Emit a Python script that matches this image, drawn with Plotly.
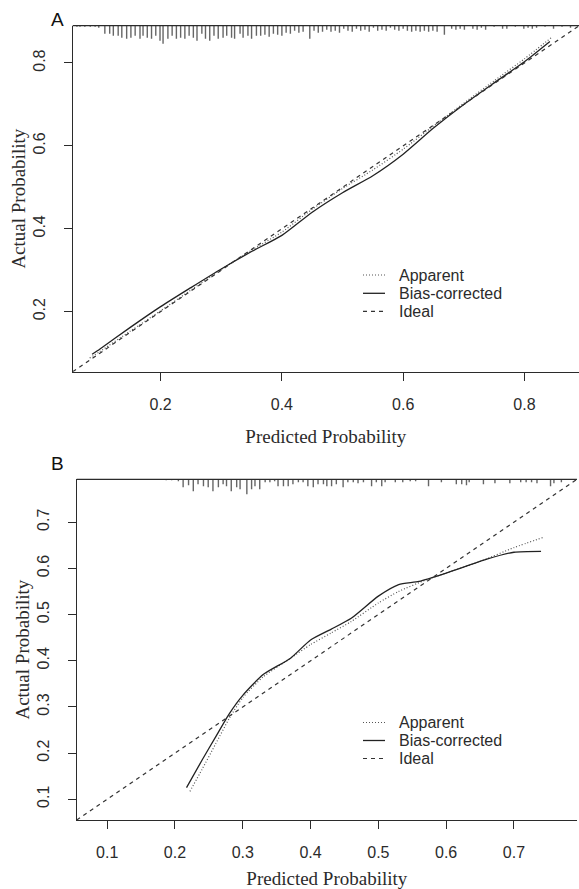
import plotly.graph_objects as go

# ---------------- data ----------------
# Panel A
a_app_x = [0.083, 0.10, 0.15, 0.20, 0.25, 0.30, 0.35, 0.40, 0.45, 0.50, 0.55, 0.60, 0.65, 0.70, 0.75, 0.80, 0.845]
a_app_y = [0.088, 0.104, 0.153, 0.202, 0.252, 0.302, 0.348, 0.392, 0.447, 0.497, 0.542, 0.592, 0.648, 0.703, 0.757, 0.810, 0.862]
a_bc_x = [0.087, 0.10, 0.15, 0.20, 0.25, 0.30, 0.35, 0.40, 0.45, 0.50, 0.55, 0.60, 0.65, 0.70, 0.75, 0.80, 0.842]
a_bc_y = [0.097, 0.110, 0.162, 0.212, 0.258, 0.303, 0.345, 0.384, 0.440, 0.487, 0.528, 0.580, 0.643, 0.700, 0.752, 0.803, 0.852]
a_range = [0.055, 0.890]
a_ticks = [0.2, 0.4, 0.6, 0.8]
a_ticklabels = ["0.2", "0.4", "0.6", "0.8"]
rug_a_x = [0.062, 0.067, 0.075, 0.084, 0.092, 0.098,
           0.108, 0.116, 0.122, 0.130, 0.136, 0.144, 0.151, 0.158, 0.166, 0.171,
           0.178, 0.185, 0.192, 0.199, 0.204, 0.212, 0.219, 0.226, 0.233, 0.240,
           0.247, 0.254, 0.260, 0.268, 0.274, 0.281, 0.288, 0.295, 0.303, 0.309,
           0.317, 0.322, 0.331, 0.336, 0.344, 0.350, 0.358,
           0.365, 0.372, 0.379, 0.386, 0.393, 0.400, 0.407, 0.414, 0.421, 0.428,
           0.435, 0.446, 0.453, 0.460, 0.467, 0.474, 0.481, 0.488, 0.495, 0.502,
           0.509, 0.516, 0.523, 0.530, 0.537, 0.544, 0.551, 0.558, 0.565, 0.572,
           0.579, 0.586, 0.593, 0.600, 0.607, 0.614, 0.621, 0.628, 0.635, 0.642,
           0.649, 0.656, 0.668, 0.680, 0.687, 0.694, 0.701, 0.715, 0.722, 0.729,
           0.736, 0.750, 0.764, 0.771, 0.785, 0.799, 0.806, 0.813, 0.820, 0.834,
           0.848, 0.862, 0.876]
rug_a_n = [1, 1, 1, 1, 1, 2,
           8, 8, 10, 10, 12, 13, 12, 10, 13, 10,
           12, 13, 10, 15, 18, 13, 10, 13, 12, 13,
           10, 12, 15, 8, 13, 15, 10, 13, 12, 10,
           12, 13, 8, 12, 10, 13, 10,
           10, 9, 11, 8, 9, 10, 7, 8, 5, 7,
           6, 13, 5, 7, 6, 4, 6, 5, 7, 3,
           5, 6, 3, 5, 4, 6, 2, 5, 4, 5,
           2, 4, 5, 3, 5, 6, 5, 6, 5, 6,
           5, 6, 9, 3, 4, 3, 4, 3, 4, 2,
           4, 1, 3, 3, 1, 3, 2, 3, 2, 1,
           3, 1, 2]

# Panel B
b_app_x = [0.222, 0.24, 0.26, 0.28, 0.30, 0.33, 0.37, 0.40, 0.43, 0.46, 0.50, 0.53, 0.57, 0.60, 0.65, 0.70, 0.745]
b_app_y = [0.117, 0.165, 0.220, 0.275, 0.320, 0.365, 0.405, 0.435, 0.460, 0.485, 0.525, 0.550, 0.575, 0.590, 0.615, 0.645, 0.668]
b_bc_x = [0.217, 0.24, 0.26, 0.28, 0.30, 0.33, 0.37, 0.40, 0.43, 0.46, 0.50, 0.53, 0.56, 0.60, 0.66, 0.70, 0.74]
b_bc_y = [0.125, 0.185, 0.235, 0.285, 0.325, 0.370, 0.405, 0.445, 0.468, 0.492, 0.540, 0.565, 0.572, 0.590, 0.620, 0.635, 0.637]
b_range = [0.055, 0.793]
b_ticks = [0.1, 0.2, 0.3, 0.4, 0.5, 0.6, 0.7]
b_ticklabels = ["0.1", "0.2", "0.3", "0.4", "0.5", "0.6", "0.7"]
rug_b_x = [0.187, 0.195, 0.205, 0.212, 0.220, 0.227, 0.234, 0.242, 0.249, 0.256,
           0.264, 0.271, 0.276, 0.283, 0.291, 0.296, 0.306, 0.313, 0.318, 0.325,
           0.333, 0.340, 0.347, 0.352, 0.360, 0.367, 0.374, 0.382, 0.389, 0.396,
           0.404, 0.411, 0.419, 0.424, 0.431, 0.438, 0.448, 0.455, 0.463, 0.470,
           0.478, 0.490, 0.497, 0.505, 0.510, 0.525, 0.536, 0.547, 0.555, 0.574,
           0.593, 0.615, 0.623, 0.630, 0.634, 0.655, 0.672, 0.694, 0.710, 0.718,
           0.726, 0.734, 0.754, 0.759, 0.770]
rug_b_n = [1, 1, 2, 8, 6, 12, 5, 7, 8, 12,
           8, 5, 7, 12, 8, 10, 15, 10, 7, 10,
           3, 3, 2, 7, 7, 7, 5, 3, 3, 7,
           8, 5, 5, 7, 7, 5, 8, 3, 3, 4,
           3, 7, 3, 7, 3, 3, 3, 2, 2, 7,
           3, 5, 5, 6, 3, 5, 4, 4, 3, 3,
           3, 4, 7, 4, 3]

series_names = ["Apparent", "Bias-corrected", "Ideal"]
x_title = "Predicted Probability"
y_title = "Actual Probability"
panel_labels = ["A", "B"]

# ---------------- figure ----------------
W, H = 579, 889
INK = "#2b2b2b"
SANS = "Liberation Sans, Arial, sans-serif"
SERIF = "Liberation Serif, Times New Roman, serif"

STYLES = [
    dict(color="#555555", width=1.2, dash="1px,2px"),   # Apparent
    dict(color="#222222", width=1.3),                   # Bias-corrected
    dict(color="#333333", width=1.2, dash="4px,4px"),   # Ideal
]

fig = go.Figure()


def rug_xy(xs, ns, top, unit):
    rx, ry = [], []
    for x, n in zip(xs, ns):
        rx += [x, x, None]
        ry += [top, top - n * unit, None]
    return rx, ry


def add_panel(xa, ya, app_x, app_y, bc_x, bc_y, rng, rug_x, rug_n, unit):
    rx, ry = rug_xy(rug_x, rug_n, rng[1], unit)
    fig.add_trace(go.Scatter(x=rx, y=ry, mode="lines", xaxis=xa, yaxis=ya,
                             line=dict(color="#666666", width=1.4),
                             showlegend=False, hoverinfo="skip"))
    fig.add_trace(go.Scatter(x=app_x, y=app_y, mode="lines", name=series_names[0],
                             xaxis=xa, yaxis=ya, showlegend=False,
                             line=dict(**STYLES[0], shape="spline", smoothing=0.6)))
    fig.add_trace(go.Scatter(x=bc_x, y=bc_y, mode="lines", name=series_names[1],
                             xaxis=xa, yaxis=ya, showlegend=False,
                             line=dict(**STYLES[1], shape="spline", smoothing=0.6)))
    fig.add_trace(go.Scatter(x=rng, y=rng, mode="lines", name=series_names[2],
                             xaxis=xa, yaxis=ya, showlegend=False,
                             line=STYLES[2]))


add_panel("x", "y", a_app_x, a_app_y, a_bc_x, a_bc_y, a_range,
          rug_a_x, rug_a_n, 0.00242)
add_panel("x2", "y2", b_app_x, b_app_y, b_bc_x, b_bc_y, b_range,
          rug_b_x, rug_b_n, 0.00216)


def axis(rng, ticks, labels, domain, anchor, is_y):
    d = dict(range=rng, domain=domain, anchor=anchor, tickvals=ticks, ticktext=labels,
             showline=True, linecolor=INK, linewidth=1.2, ticks="outside", ticklen=8,
             tickwidth=1.2, tickcolor=INK, showgrid=False, zeroline=False,
             automargin=False, fixedrange=True,
             tickfont=dict(family=SANS, size=16, color=INK),
             title=dict(text=y_title if is_y else x_title,
                        font=dict(family=SERIF, size=19, color=INK)))
    if is_y:
        d.update(tickangle=-90, ticklabelstandoff=12)
        d["title"]["standoff"] = 0
    else:
        d.update(ticklabelstandoff=10)
        d["title"]["standoff"] = 17
    return d


ya_dom = [1 - 371.7 / H, 1 - 25.7 / H]
yb_dom = [1 - 820.0 / H, 1 - 479.3 / H]
fig.update_layout(
    width=W, height=H,
    margin=dict(l=0, r=0, t=0, b=0),
    paper_bgcolor="white", plot_bgcolor="white",
    xaxis=axis(a_range, a_ticks, a_ticklabels, [72.7 / W, 1.0], "y", False),
    yaxis=axis(a_range, a_ticks, a_ticklabels, ya_dom, "x", True),
    xaxis2=axis(b_range, b_ticks, b_ticklabels, [76.7 / W, 0.9965], "y2", False),
    yaxis2=axis(b_range, b_ticks, b_ticklabels, yb_dom, "x2", True),
    showlegend=False,
)

# top frame line of each panel (under the rug)
for xr, yr in (("x domain", "y domain"), ("x2 domain", "y2 domain")):
    fig.add_shape(type="line", xref=xr, yref=yr, x0=0, x1=1, y0=1, y1=1,
                  line=dict(color=INK, width=1.2))

# legends (line sample + text) for both panels
for rows_y in ((275.0, 293.3, 311.3), (722.5, 740.5, 758.5)):
    for i, yy in enumerate(rows_y):
        fig.add_shape(type="line", xref="paper", yref="paper",
                      x0=363 / W, x1=385 / W, y0=1 - yy / H, y1=1 - yy / H,
                      line=STYLES[i])
        fig.add_annotation(text=series_names[i], xref="paper", yref="paper",
                           x=397 / W, y=1 - yy / H, xanchor="left", yanchor="middle",
                           showarrow=False, font=dict(family=SANS, size=16, color=INK))

# panel letters
fig.add_annotation(text=panel_labels[0], xref="paper", yref="paper", x=57 / W, y=1 - 20 / H,
                   xanchor="center", yanchor="middle",
                   showarrow=False, font=dict(family=SANS, size=19, color="#111"))
fig.add_annotation(text=panel_labels[1], xref="paper", yref="paper", x=57 / W, y=1 - 463 / H,
                   xanchor="center", yanchor="middle",
                   showarrow=False, font=dict(family=SANS, size=19, color="#111"))

fig.write_html("out.html", config={"displayModeBar": False},
               post_script="document.body.style.margin='0';")
